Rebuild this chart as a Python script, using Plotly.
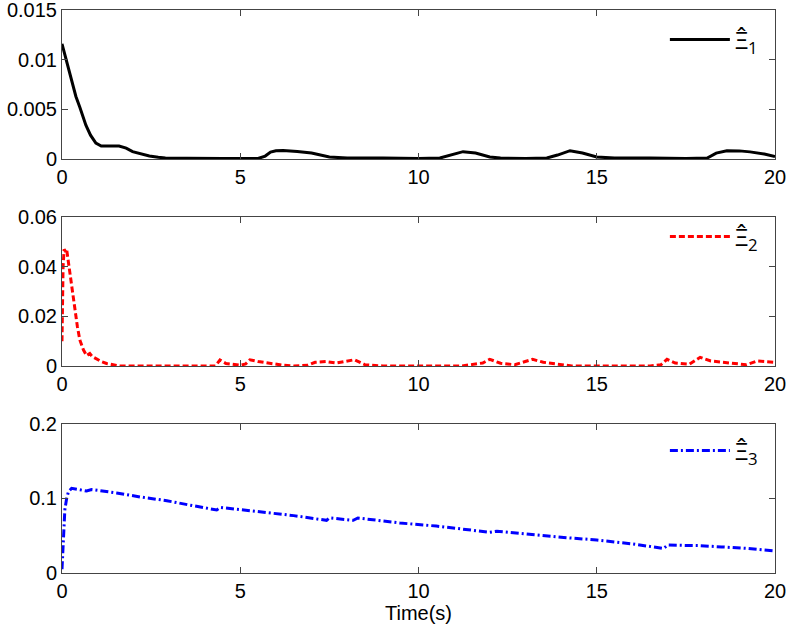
import plotly.graph_objects as go

# ---- data ----
t1 = [0, 0.08, 0.16, 0.25, 0.39, 0.5, 0.67, 0.8, 0.95, 1.1, 1.23, 1.4, 1.6, 1.8, 1.98, 2.2, 2.45, 2.7, 2.9,
      3.5, 4.0, 4.5, 5.0, 5.5, 5.7, 5.85, 6.0, 6.2, 6.6, 7.0, 7.5, 8.0, 9.0, 10.0, 10.6, 10.9, 11.25, 11.6,
      12.0, 12.3, 13.0, 13.6, 13.9, 14.25, 14.6, 15.0, 15.5, 16.5, 17.5, 18.1, 18.35, 18.65, 19.0, 19.3, 19.7, 20]
v1 = [0.0116, 0.0105, 0.0093, 0.0080, 0.0063, 0.0052, 0.0034, 0.0024, 0.0016, 0.0013, 0.00128, 0.0013, 0.0013,
      0.0011, 0.00074, 0.0005, 0.0003, 0.00018, 0.0001, 0.00008, 0.0001, 0.00006, 0.00005, 0.00005, 0.0003,
      0.0007, 0.00084, 0.00085, 0.00076, 0.0006, 0.0002, 0.0001, 0.0001, 0.00005, 0.0001, 0.0004, 0.00074,
      0.0006, 0.0002, 0.0001, 0.00005, 0.0001, 0.0004, 0.00084, 0.0006, 0.0002, 0.0001, 0.0001, 0.00005, 0.0001,
      0.0006, 0.00084, 0.00082, 0.00072, 0.0005, 0.00025]

t2 = [0, 0.03, 0.06, 0.1, 0.13, 0.18, 0.22, 0.3, 0.36, 0.43, 0.5, 0.6, 0.69, 0.78, 0.85, 0.97, 1.1, 1.25, 1.44,
      1.6, 4.3, 4.43, 4.6, 4.8, 5.0, 5.15, 5.27, 5.5, 5.75, 6.0, 6.2, 6.5, 6.9, 7.1, 7.4, 7.7, 7.9, 8.2, 8.5, 9,
      11.2, 11.5, 11.8, 12.0, 12.3, 12.7, 13.2, 13.5, 13.9, 14.3, 16.5, 16.8, 16.97, 17.2, 17.6, 17.9, 18.2,
      18.8, 19.2, 19.5, 20]
v2 = [0.010, 0.04, 0.047, 0.046, 0.047, 0.042, 0.036, 0.028, 0.022, 0.016, 0.0105, 0.0065, 0.0042, 0.005,
      0.0038, 0.0027, 0.0018, 0.001, 0.0004, 0, 0, 0.0024, 0.001, 0.0005, 0.0003, 0.0008, 0.0025, 0.0018,
      0.0012, 0.0008, 0.0003, 0, 0.0003, 0.0015, 0.0018, 0.0012, 0.0018, 0.0025, 0.0005, 0, 0, 0.0005, 0.0012,
      0.0027, 0.0011, 0.0005, 0.0027, 0.0015, 0.0007, 0, 0, 0.0005, 0.0027, 0.0012, 0.0007, 0.0035, 0.002,
      0.001, 0.0005, 0.002, 0.0015]

t3 = [0, 0.03, 0.08, 0.13, 0.18, 0.27, 0.45, 0.69, 0.83, 1.0, 1.53, 2.2, 2.94, 3.6, 4.34, 4.45, 5.0, 5.74, 6.5,
      7.42, 7.5, 7.8, 8.17, 8.3, 8.8, 9.48, 10.5, 11.2, 12.0, 12.2, 13.0, 14.0, 15.0, 16.0, 16.87, 17.0, 17.5,
      17.9, 18.5, 19.2, 20]
v3 = [0.005, 0.04, 0.085, 0.1, 0.109, 0.1137, 0.112, 0.110, 0.112, 0.111, 0.1074, 0.102, 0.097, 0.091, 0.0846,
      0.088, 0.085, 0.0805, 0.077, 0.0707, 0.074, 0.0725, 0.0707, 0.0738, 0.071, 0.0671, 0.063, 0.059, 0.0546,
      0.056, 0.052, 0.048, 0.0443, 0.039, 0.033, 0.0376, 0.037, 0.0367, 0.035, 0.033, 0.0295]

names = ["Ξ̂<sub>1</sub>", "Ξ̂<sub>2</sub>", "Ξ̂<sub>3</sub>"]
x_ticks = [0, 5, 10, 15, 20]
x_ticktext = ["0", "5", "10", "15", "20"]
y1_ticks = [0, 0.005, 0.01, 0.015]
y1_text = ["0", "0.005", "0.01", "0.015"]
y2_ticks = [0, 0.02, 0.04, 0.06]
y2_text = ["0", "0.02", "0.04", "0.06"]
y3_ticks = [0, 0.1, 0.2]
y3_text = ["0", "0.1", "0.2"]

fig = go.Figure()
fig.add_trace(go.Scatter(x=t1, y=v1, mode="lines", name=names[0], line=dict(color="black", width=3),
                         xaxis="x", yaxis="y", legend="legend"))
fig.add_trace(go.Scatter(x=t2, y=v2, mode="lines", name=names[1],
                         line=dict(color="#ff0000", width=3, dash="6px,3px"),
                         xaxis="x2", yaxis="y2", legend="legend2"))
fig.add_trace(go.Scatter(x=t3, y=v3, mode="lines", name=names[2],
                         line=dict(color="#0000ff", width=3, dash="8px,3px,2px,3px"),
                         xaxis="x3", yaxis="y3", legend="legend3"))

tickfont = dict(family="Liberation Sans, Arial, sans-serif", size=20, color="black")
axcommon = dict(showgrid=False, zeroline=False, showline=True, linecolor="#444", linewidth=1,
                mirror="ticks", ticks="inside", ticklen=6, tickcolor="#444", tickfont=tickfont,
                automargin=False, ticklabeloverflow="allow")

def xax(anchor, title=None):
    d = dict(axcommon, range=[0, 20], tickvals=x_ticks, ticktext=x_ticktext, anchor=anchor, domain=[0, 1])
    if title:
        d["title"] = dict(text=title, font=tickfont, standoff=4)
    return d

def yax(anchor, domain, rng, tv, tt):
    return dict(axcommon, range=rng, tickvals=tv, ticktext=tt, anchor=anchor, domain=domain)

legfont = dict(family="Open Sans, DejaVu Serif, serif", size=24, color="black")
def leg(y):
    return dict(x=0.983, y=y, xanchor="right", yanchor="middle", bgcolor="rgba(0,0,0,0)",
                font=legfont, itemwidth=60, borderwidth=0)

fig.update_layout(
    width=788, height=637,
    margin=dict(l=62, r=13, t=10, b=64),
    paper_bgcolor="white", plot_bgcolor="white",
    showlegend=True,
    xaxis=xax("y"),
    xaxis2=xax("y2"),
    xaxis3=xax("y3", title="Time(s)"),
    yaxis=yax("x", [0.7353, 1.0], [0, 0.015], y1_ticks, y1_text),
    yaxis2=yax("x2", [0.3677, 0.6323], [0, 0.06], y2_ticks, y2_text),
    yaxis3=yax("x3", [0.0, 0.2647], [0, 0.2], y3_ticks, y3_text),
    legend=leg(0.947),
    legend2=leg(0.597),
    legend3=leg(0.217),
)

fig.write_html("out.html")
